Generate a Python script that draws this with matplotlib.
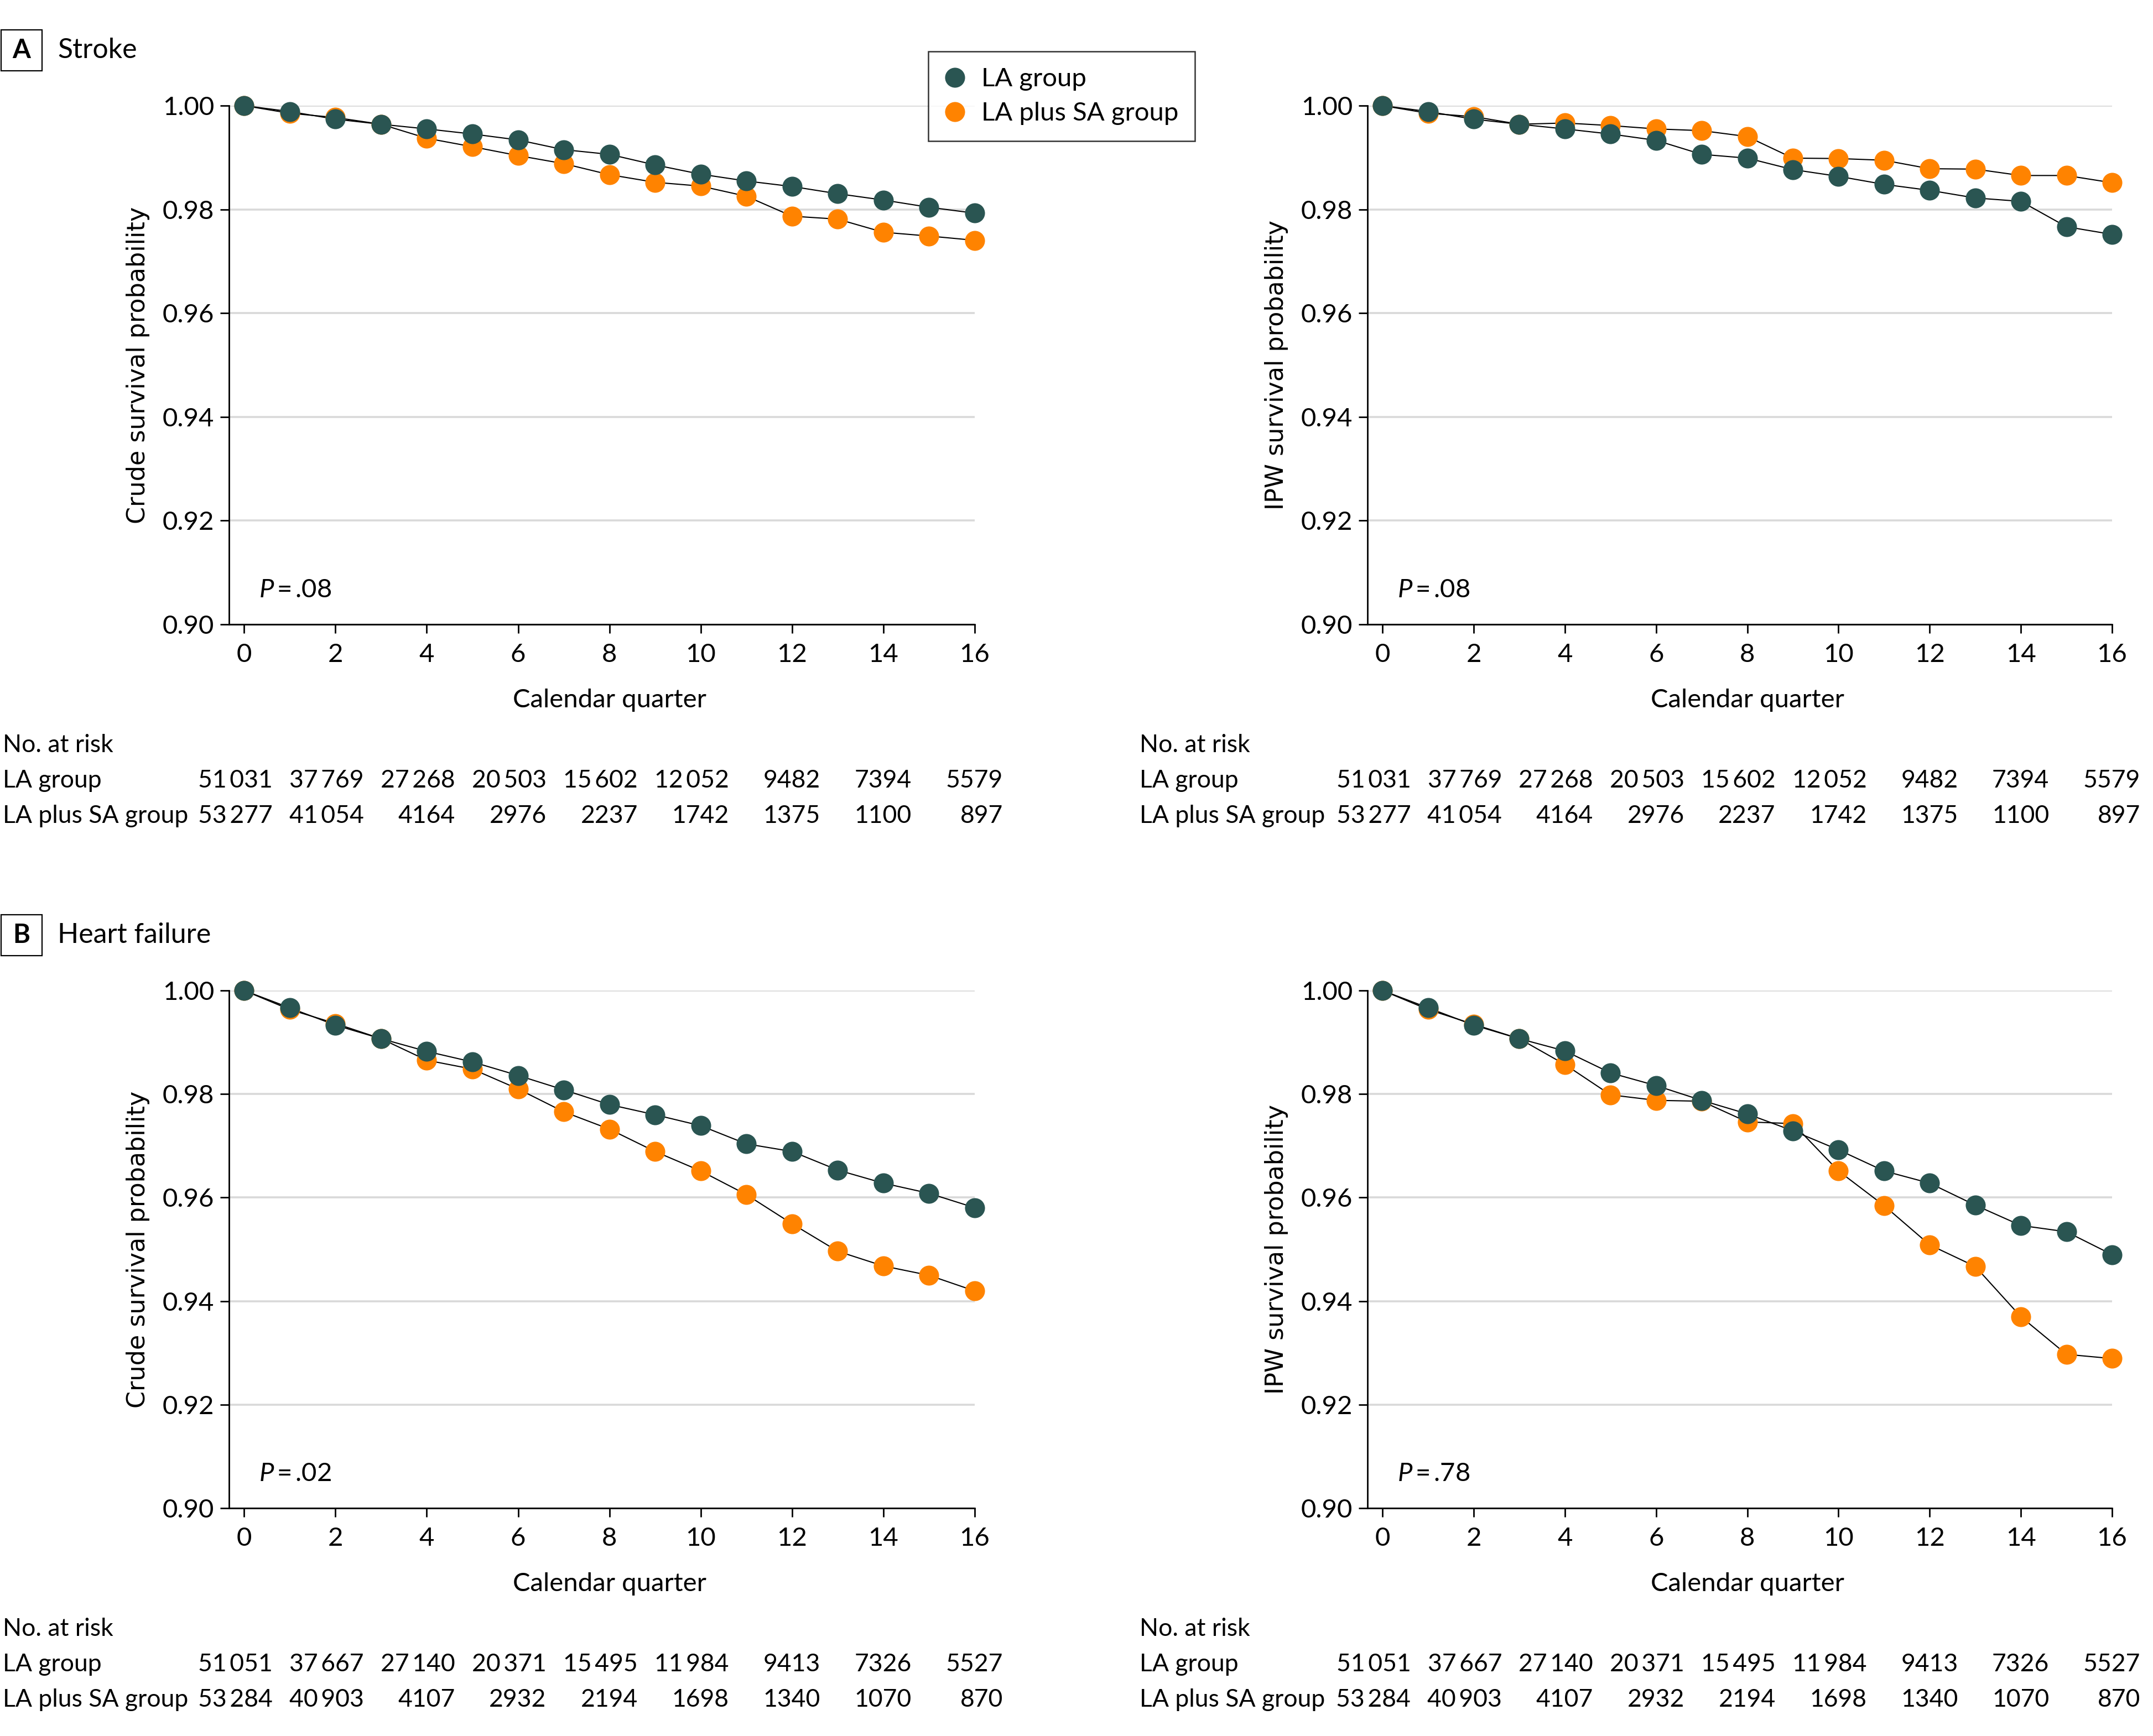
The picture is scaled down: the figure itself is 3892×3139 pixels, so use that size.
import matplotlib
matplotlib.use('Agg')
import matplotlib.pyplot as plt
from matplotlib.lines import Line2D
from matplotlib.patches import Rectangle
import matplotlib.transforms as mtransforms

plt.rcParams['font.family'] = ['Lato', 'DejaVu Sans']
plt.rcParams['mathtext.fontset'] = 'custom'
plt.rcParams['mathtext.it'] = 'Lato:italic'
plt.rcParams['mathtext.rm'] = 'Lato'

# ---------------- data ----------------
quarters = list(range(17))

stroke_crude_la = [1.0, 0.99886, 0.99739, 0.99641, 0.99551, 0.99453, 0.99339, 0.99151, 0.99061,
                   0.98857, 0.98678, 0.98547, 0.98441, 0.98302, 0.98180, 0.98041, 0.97927]
stroke_crude_lasa = [1.0, 0.99853, 0.99771, 0.99641, 0.99371, 0.99208, 0.99037, 0.98882, 0.98669,
                     0.98522, 0.98449, 0.98253, 0.97869, 0.97812, 0.97559, 0.97486, 0.97404]
stroke_ipw_la = [1.0, 0.99886, 0.99739, 0.99641, 0.99551, 0.99453, 0.99331, 0.99061, 0.98988,
                 0.98767, 0.98637, 0.98482, 0.98367, 0.98220, 0.98155, 0.97665, 0.97518]
stroke_ipw_lasa = [1.0, 0.99853, 0.99788, 0.99641, 0.99665, 0.99616, 0.99551, 0.99518, 0.99404,
                   0.98988, 0.98980, 0.98947, 0.98784, 0.98776, 0.98653, 0.98653, 0.98514]
hf_crude_la = [1.0, 0.99665, 0.99331, 0.99069, 0.98824, 0.98620, 0.98359, 0.98082, 0.97796,
               0.97600, 0.97388, 0.97037, 0.96890, 0.96531, 0.96278, 0.96082, 0.95804]
hf_crude_lasa = [1.0, 0.99633, 0.99363, 0.99069, 0.98653, 0.98482, 0.98098, 0.97657, 0.97322,
                 0.96890, 0.96514, 0.96057, 0.95494, 0.94963, 0.94678, 0.94498, 0.94196]
hf_ipw_la = [1.0, 0.99665, 0.99331, 0.99069, 0.98833, 0.98408, 0.98163, 0.97878, 0.97616,
             0.97290, 0.96922, 0.96514, 0.96278, 0.95853, 0.95461, 0.95339, 0.94898]
hf_ipw_lasa = [1.0, 0.99633, 0.99347, 0.99069, 0.98571, 0.97984, 0.97878, 0.97861, 0.97461,
               0.97429, 0.96514, 0.95845, 0.95086, 0.94669, 0.93698, 0.92971, 0.92890]

risk_ticks = [0, 2, 4, 6, 8, 10, 12, 14, 16]
stroke_risk_la = [51031, 37769, 27268, 20503, 15602, 12052, 9482, 7394, 5579]
stroke_risk_lasa = [53277, 41054, 4164, 2976, 2237, 1742, 1375, 1100, 897]
hf_risk_la = [51051, 37667, 27140, 20371, 15495, 11984, 9413, 7326, 5527]
hf_risk_lasa = [53284, 40903, 4107, 2932, 2194, 1698, 1340, 1070, 870]

p_values = ['.08', '.08', '.02', '.78']
ylabels = ['Crude survival probability', 'IPW survival probability']
series_names = ['LA group', 'LA plus SA group']
yticks = [0.90, 0.92, 0.94, 0.96, 0.98, 1.00]

# ---------------- style ----------------
C_LA = '#2a5552'
C_SA = '#ff8300'
W, H = 3892, 3139
fig = plt.figure(figsize=(W / 100, H / 100), dpi=100)

FS = 34
TFS = 32

def fx(px):
    return px / W

def fy(py):
    return 1 - py / H

axes_px = {
    (0, 0): (414, 191, 1762, 1129),
    (0, 1): (2472, 191, 3818, 1129),
    (1, 0): (414, 1791, 1762, 2727),
    (1, 1): (2472, 1791, 3818, 2727),
}

panels = {
    (0, 0): (stroke_crude_la, stroke_crude_lasa, p_values[0]),
    (0, 1): (stroke_ipw_la, stroke_ipw_lasa, p_values[1]),
    (1, 0): (hf_crude_la, hf_crude_lasa, p_values[2]),
    (1, 1): (hf_ipw_la, hf_ipw_lasa, p_values[3]),
}

axes = {}
for key, (l, t, r, b) in axes_px.items():
    ax = fig.add_axes([fx(l), fy(b), fx(r - l), (b - t) / H])
    axes[key] = ax
    la, lasa, p = panels[key]
    ax.set_xlim(-0.33, 16)
    ax.set_ylim(0.90, 1.00)
    ax.set_yticks(yticks)
    ax.set_yticklabels([f'{v:.2f}' for v in yticks])
    ax.set_xticks(risk_ticks)
    ax.set_xticklabels([str(v) for v in risk_ticks])
    for s in ['top', 'right']:
        ax.spines[s].set_visible(False)
    for s in ['left', 'bottom']:
        ax.spines[s].set_linewidth(2.0)
    ax.tick_params(axis='both', direction='out', length=11.5, width=2.0, labelsize=FS)
    ax.tick_params(axis='x', pad=13)
    ax.tick_params(axis='y', pad=8)
    ax.yaxis.grid(True, color='#d9d9d9', linewidth=2.6)
    ax.set_axisbelow(True)
    # lines then markers
    ax.plot(quarters, lasa, color='black', lw=1.5, zorder=3, clip_on=False)
    ax.plot(quarters, la, color='black', lw=1.5, zorder=3, clip_on=False)
    ax.plot(quarters, lasa, linestyle='none', marker='o', ms=26, mec='none', color=C_SA,
            zorder=4, clip_on=False)
    ax.plot(quarters, la, linestyle='none', marker='o', ms=26, mec='none', color=C_LA,
            zorder=5, clip_on=False)
    ax.text(0.33, 0.9066, r'$P$' + '\u2009=\u2009' + p, fontsize=FS, ha='left', va='center')
    ax.set_xlabel('Calendar quarter', fontsize=FS)
    ax.xaxis.set_label_coords(0.51, -0.124)
    ax.set_ylabel(ylabels[key[1]], fontsize=32, family=['DejaVu Sans'])
    ax.yaxis.set_label_coords(-0.106, 0.5)

# ---------------- panel headers ----------------
def header(letter, title, ycen):
    fig.patches.append(Rectangle((fx(2), fy(ycen + 37)), fx(74), 74 / H, transform=fig.transFigure,
                                 fill=False, edgecolor='black', linewidth=1.6))
    fig.text(fx(39), fy(ycen), letter, fontsize=FS, fontweight='bold', ha='center', va='center')
    fig.text(fx(104), fy(ycen), title, fontsize=36, ha='left', va='center')

header('A', 'Stroke', 91)
header('B', 'Heart failure', 1691)

# ---------------- legend ----------------
handles = [Line2D([], [], linestyle='none', marker='o', ms=26, mec='none', color=C_LA),
           Line2D([], [], linestyle='none', marker='o', ms=26, mec='none', color=C_SA)]
leg = fig.legend(handles, series_names, loc='upper left',
                 bbox_to_anchor=(fx(1678), fy(93)), bbox_transform=fig.transFigure,
                 fontsize=FS, frameon=True, fancybox=False, borderpad=0.62,
                 handlelength=0.8, handletextpad=0.62, labelspacing=0.42, borderaxespad=0)
leg.get_frame().set_edgecolor('black')
leg.get_frame().set_linewidth(1.8)

# ---------------- number at risk tables ----------------
def fmt(n):
    return f'{n:,}'.replace(',', '\u2009') if n >= 10000 else str(n)

tables = {
    0: (stroke_risk_la, stroke_risk_lasa, (1347, 1411, 1476)),
    1: (hf_risk_la, hf_risk_lasa, (2945, 3010, 3074)),
}
label_x = {0: 5, 1: 2060}
for row, (rla, rsa, (y0, y1, y2)) in tables.items():
    for col in (0, 1):
        ax = axes[(row, col)]
        lx = label_x[col]
        fig.text(fx(lx), fy(y0), 'No. at risk', fontsize=TFS, ha='left', va='center')
        fig.text(fx(lx), fy(y1), series_names[0], fontsize=TFS, ha='left', va='center')
        fig.text(fx(lx), fy(y2), series_names[1], fontsize=TFS, ha='left', va='center')
        tr = mtransforms.blended_transform_factory(ax.transData, fig.transFigure)
        for xt, a, b in zip(risk_ticks, rla, rsa):
            ax.text(xt + 0.62, fy(y1), fmt(a), transform=tr, fontsize=TFS, ha='right',
                    va='center', clip_on=False)
            ax.text(xt + 0.62, fy(y2), fmt(b), transform=tr, fontsize=TFS, ha='right',
                    va='center', clip_on=False)

fig.savefig('out.png', dpi=100, facecolor='white')
